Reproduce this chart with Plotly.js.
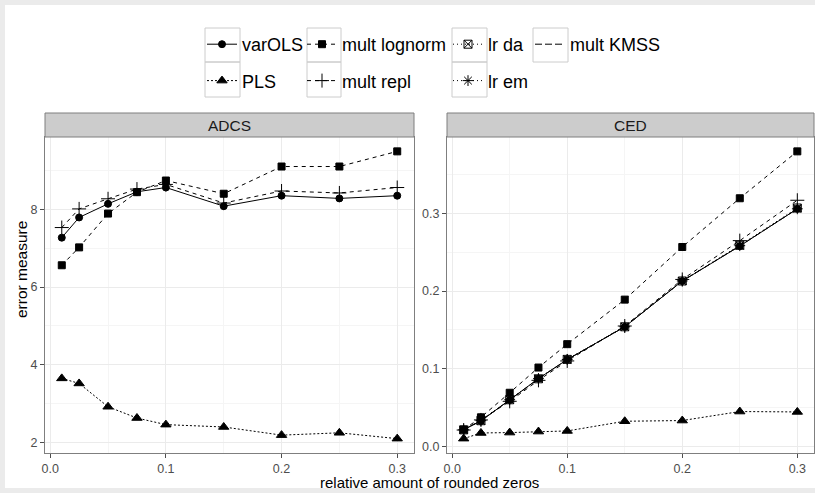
<!DOCTYPE html>
<html><head><meta charset="utf-8">
<script src="https://cdn.plot.ly/plotly-3.0.1.min.js"></script>
<style>html,body{margin:0;padding:0;background:#fff}#plot{width:815px;height:493px}</style>
</head><body><div id="plot"></div><script>
(function () {
const W = 815, H = 493;
// ---------------- data ----------------
const zeroShare = [0.01, 0.025, 0.05, 0.075, 0.1, 0.15, 0.2, 0.25, 0.3];
const panels = ["ADCS", "CED"];
const xTicks = [0.0, 0.1, 0.2, 0.3];
const adcsTicks = [2, 4, 6, 8];
const cedTicks = [0.0, 0.1, 0.2, 0.3];

const adcs_varOLS   = [7.27, 7.79, 8.14, 8.45, 8.56, 8.08, 8.35, 8.28, 8.35];
const adcs_PLS      = [3.65, 3.52, 2.92, 2.63, 2.46, 2.40, 2.19, 2.25, 2.10];
const adcs_lognorm  = [6.56, 7.02, 7.89, 8.44, 8.74, 8.40, 9.10, 9.10, 9.49];
const adcs_repl     = [7.53, 8.01, 8.27, 8.52, 8.64, 8.16, 8.47, 8.42, 8.56];

const ced_varOLS    = [0.0215, 0.0327, 0.0598, 0.0873, 0.1118, 0.154, 0.2129, 0.258, 0.306];
const ced_PLS       = [0.0099, 0.0172, 0.0177, 0.0190, 0.0198, 0.0323, 0.0332, 0.0448, 0.0443];
const ced_lognorm   = [0.0215, 0.0374, 0.0690, 0.1015, 0.1316, 0.189, 0.2568, 0.3196, 0.380];
const ced_repl      = [0.0210, 0.0340, 0.0580, 0.0850, 0.1100, 0.155, 0.2150, 0.2650, 0.317];
const ced_lrda      = [0.0212, 0.0330, 0.0600, 0.0870, 0.1120, 0.154, 0.2130, 0.2590, 0.307];
const ced_lrem      = [0.0213, 0.0331, 0.0601, 0.0872, 0.1119, 0.154, 0.2131, 0.2585, 0.306];
const ced_KMSS      = [0.0214, 0.0329, 0.0599, 0.0871, 0.1118, 0.154, 0.2130, 0.2582, 0.306];

// ---------------- styling ----------------
const FONT = "Liberation Sans, Arial, sans-serif";
const styles = {
  "varOLS":      {dash: "solid",     symbol: "circle",          size: 7,  legend: "legend"},
  "PLS":         {dash: "2px,2px",   symbol: "triangle-up",     size: 9,  legend: "legend"},
  "mult lognorm":{dash: "4px,4px",   symbol: "square",          size: 7,  legend: "legend2"},
  "mult repl":   {dash: "4px,4px",   symbol: "cross-thin-open", size: 10, legend: "legend2"},
  "lr da":       {dash: "1px,3px",   symbol: "square-x-open",   size: 8,  legend: "legend3"},
  "lr em":       {dash: "1px,3px",   symbol: "asterisk-open",   size: 9,  legend: "legend3"},
  "mult KMSS":   {dash: "7px,3px",   symbol: null,              size: 0,  legend: "legend4"}
};
const series = [
  ["varOLS", adcs_varOLS, ced_varOLS],
  ["PLS", adcs_PLS, ced_PLS],
  ["mult lognorm", adcs_lognorm, ced_lognorm],
  ["mult repl", adcs_repl, ced_repl],
  ["lr da", null, ced_lrda],
  ["lr em", null, ced_lrem],
  ["mult KMSS", null, ced_KMSS]
];

const traces = [];
series.forEach(([name, a, c]) => {
  const st = styles[name];
  [[a, "x", "y"], [c, "x2", "y2"]].forEach(([vals, xa, ya], i) => {
    if (!vals) return;
    const t = {
      type: "scatter", x: zeroShare, y: vals, xaxis: xa, yaxis: ya, name: name,
      legendgroup: name, legend: st.legend,
      showlegend: (i === 1),
      mode: st.symbol ? "lines+markers" : "lines",
      line: {color: "#000", width: 1, dash: st.dash},
      hoverinfo: "skip"
    };
    if (st.symbol) t.marker = {symbol: st.symbol, size: st.size, color: "#000", line: {color: "#000", width: 1}};
    traces.push(t);
  });
});

// ggplot-like 5% expansion
function expand(arrs) {
  const all = [].concat(...arrs.filter(Boolean));
  const mn = Math.min(...all), mx = Math.max(...all), d = (mx - mn) * 0.05;
  return [mn - d, mx + d];
}
const xr = expand([zeroShare]);
const yrA = expand(series.map(s => s[1]));
const yrC = expand(series.map(s => s[2]));

// panel geometry (pixels)
const pTop = 137, pBottom = 453, stripTop = 113;
const L1 = 45, R1 = 414, L2 = 447, R2 = 814;
const px = v => v / W, py = v => 1 - v / H;

const axisBase = {
  showline: true, mirror: true, linecolor: "#7f7f7f", linewidth: 1,
  ticks: "outside", ticklen: 4, tickcolor: "#4d4d4d", tickwidth: 1,
  showgrid: true, gridcolor: "#ebebeb", gridwidth: 1, zeroline: false,
  tickfont: {family: FONT, size: 12.5, color: "#4d4d4d"},
  fixedrange: true
};
function ax(extra) { return Object.assign({}, axisBase, extra); }

const shapes = [
  // light grey frame of the picture
  {type: "rect", xref: "paper", yref: "paper", x0: 0, x1: px(5), y0: 0, y1: 1, fillcolor: "#ebebeb", line: {width: 0}, layer: "below"},
  {type: "rect", xref: "paper", yref: "paper", x0: 0, x1: 1, y0: py(493), y1: py(488), fillcolor: "#ebebeb", line: {width: 0}, layer: "below"},
  {type: "rect", xref: "paper", yref: "paper", x0: 0, x1: 1, y0: py(5), y1: 1, fillcolor: "#ebebeb", line: {width: 0}, layer: "below"},
  // facet strips
  {type: "rect", xref: "paper", yref: "paper", x0: px(L1), x1: px(R1), y0: py(pTop), y1: py(stripTop),
   fillcolor: "#cccccc", line: {color: "#7f7f7f", width: 1}},
  {type: "rect", xref: "paper", yref: "paper", x0: px(L2), x1: px(R2), y0: py(pTop), y1: py(stripTop),
   fillcolor: "#cccccc", line: {color: "#7f7f7f", width: 1}}
];
// legend key boxes (ggplot style)
const keyCols = [[205, 240, 2], [307, 341, 2], [452, 487, 2], [533, 568, 1]];
const keyRows = [[28, 62], [62, 97]];
keyCols.forEach(([a, b, n]) => {
  for (let r = 0; r < n; r++) {
    shapes.push({type: "rect", xref: "paper", yref: "paper", x0: px(a), x1: px(b),
      y0: py(keyRows[r][1]), y1: py(keyRows[r][0]), fillcolor: "rgba(0,0,0,0)",
      line: {color: "#cccccc", width: 1}, layer: "below"});
  }
});

const layout = {
  width: W, height: H,
  margin: {l: 0, r: 0, t: 0, b: 0},
  paper_bgcolor: "#fff", plot_bgcolor: "#fff",
  font: {family: FONT, color: "#000"},
  xaxis: ax({domain: [px(L1), px(R1)], range: xr, tickvals: xTicks, tickformat: ".1f", anchor: "y",
             minor: {dtick: 0.05, showgrid: true, gridcolor: "#f5f5f5", ticks: ""}}),
  yaxis: ax({domain: [py(pBottom), py(pTop)], range: yrA, tickvals: adcsTicks, anchor: "x",
             minor: {dtick: 1, showgrid: true, gridcolor: "#f5f5f5", ticks: ""}}),
  xaxis2: ax({domain: [px(L2), px(R2)], range: xr, tickvals: xTicks, tickformat: ".1f", anchor: "y2",
             minor: {dtick: 0.05, showgrid: true, gridcolor: "#f5f5f5", ticks: ""}}),
  yaxis2: ax({domain: [py(pBottom), py(pTop)], range: yrC, tickvals: cedTicks, tickformat: ".1f", anchor: "x2",
             minor: {dtick: 0.05, showgrid: true, gridcolor: "#f5f5f5", ticks: ""}}),
  shapes: shapes,
  annotations: [
    {text: panels[0], xref: "paper", yref: "paper", x: px((L1 + R1) / 2), y: py((pTop + stripTop) / 2),
     xanchor: "center", yanchor: "middle", showarrow: false, font: {family: FONT, size: 15.5, color: "#1a1a1a"}},
    {text: panels[1], xref: "paper", yref: "paper", x: px((L2 + R2) / 2), y: py((pTop + stripTop) / 2),
     xanchor: "center", yanchor: "middle", showarrow: false, font: {family: FONT, size: 15.5, color: "#1a1a1a"}},
    {text: "relative amount of rounded zeros", xref: "paper", yref: "paper", x: px((L1 + R2) / 2), y: py(482),
     xanchor: "center", yanchor: "middle", showarrow: false, font: {family: FONT, size: 15, color: "#000"}},
    {text: "error measure", xref: "paper", yref: "paper", x: px(21), y: py(270), textangle: -90,
     xanchor: "center", yanchor: "middle", showarrow: false, font: {family: FONT, size: 15.5, color: "#000"}}
  ]
};
const legBase = {
  orientation: "v", xanchor: "left", yanchor: "top", y: py(26),
  bgcolor: "rgba(0,0,0,0)", borderwidth: 0, tracegroupgap: 10,
  font: {family: FONT, size: 18, color: "#000"}, itemclick: false, itemdoubleclick: false
};
layout.showlegend = true;
layout.legend  = Object.assign({}, legBase, {x: px(202)});
layout.legend2 = Object.assign({}, legBase, {x: px(302)});
layout.legend3 = Object.assign({}, legBase, {x: px(448)});
layout.legend4 = Object.assign({}, legBase, {x: px(530)});

Plotly.newPlot("plot", traces, layout, {displayModeBar: false, staticPlot: true});
})();
</script></body></html>
